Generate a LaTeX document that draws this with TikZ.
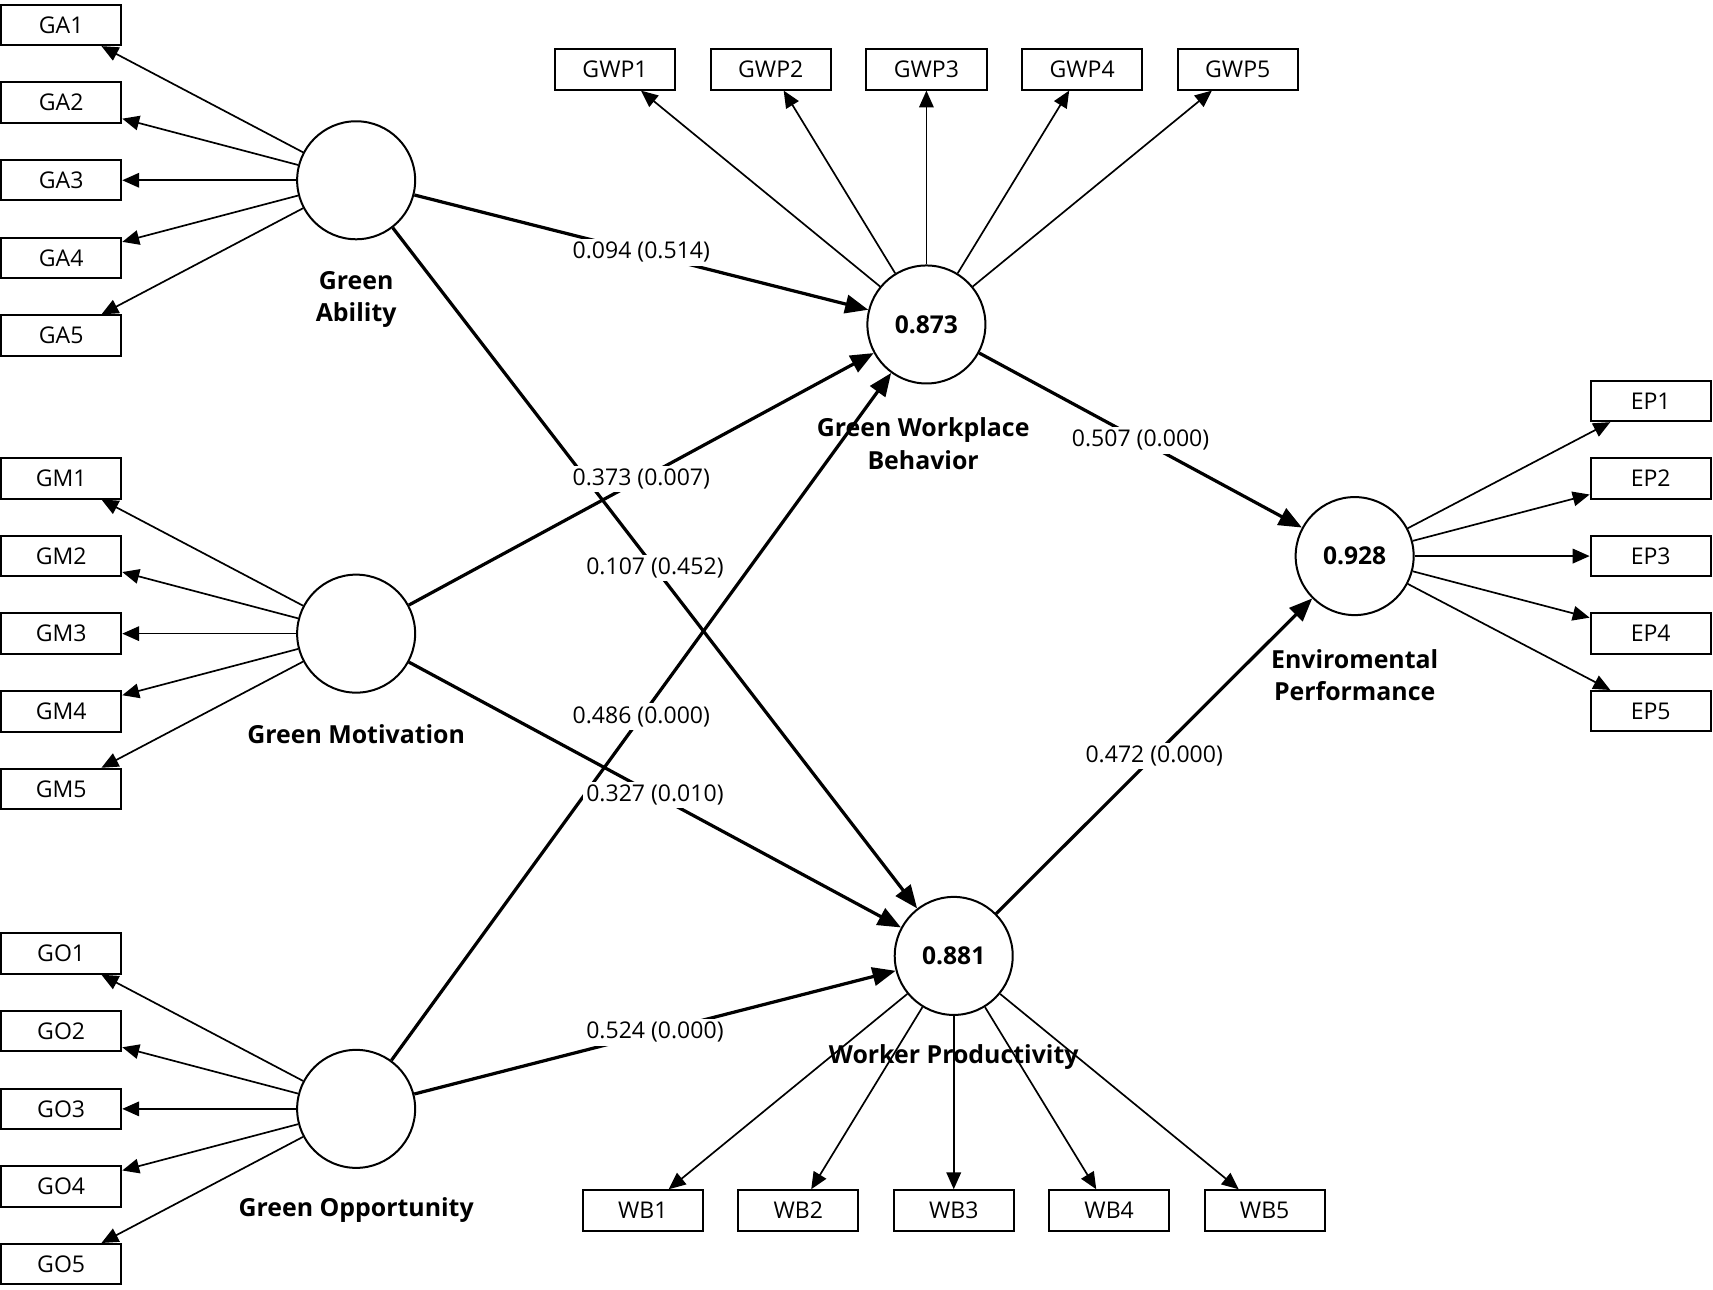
\documentclass[tikz,border=0pt]{standalone}
\usepackage{fontspec}
\setmainfont{Open Sans}
\usetikzlibrary{arrows.meta}

\begin{document}
\begin{tikzpicture}[x=0.025cm, y=-0.025cm,
  indicator/.style={draw, line width=1.3pt, fill=white, minimum width=2.75cm, minimum height=0.925cm, inner sep=0pt, font=\fontsize{15}{17}\selectfont},
  construct/.style={draw, circle, line width=1.3pt, fill=white, minimum size=2.7cm, inner sep=0pt, font=\fontsize{16}{18}\selectfont\bfseries},
  cname/.style={align=center, inner sep=0pt, font=\fontsize{16.2}{21}\selectfont\bfseries},
  loading/.style={line width=1.1pt, -{Triangle[length=11pt, width=9.5pt]}},
  structpath/.style={line width=2.1pt, -{Triangle[length=15pt, width=12pt]}},
  coeff/.style={fill=white, inner sep=2pt, font=\fontsize{15}{17}\selectfont}]

  \useasboundingbox (0, 0) rectangle (1568, 1180);

  % ==================== 1. LATENT CONSTRUCTS ====================
  \node[construct] (ga) at (326, 165) {};
  \node[construct] (gm) at (326, 580) {};
  \node[construct] (go) at (326, 1015) {};
  \node[construct] (gwb) at (848, 297) {0.873};
  \node[construct] (wp) at (873, 875) {0.881};
  \node[construct] (ep) at (1240, 509) {0.928};

  % Construct names
  \node[cname] (ganame) at (326, 274) {Green\\Ability};
  \node[cname] (gmname) at (326, 672) {Green Motivation};
  \node[cname] (goname) at (326, 1108) {Green Opportunity};
  \node[cname] (gwbname) at (845, 406) {Green Workplace\\Behavior};
  \node[cname] (wpname) at (873, 968) {Worker Productivity};
  \node[cname] (epname) at (1240, 618) {Enviromental\\Performance};

  % ==================== 2. INDICATORS ====================
  % Left blocks (GA, GM, GO)
  \foreach \i in {1,...,5} {
    \node[indicator] (ga\i) at (56, {165 + (\i-3)*71.1}) {GA\i};
    \node[indicator] (gm\i) at (56, {580 + (\i-3)*71.1}) {GM\i};
    \node[indicator] (go\i) at (56, {1015 + (\i-3)*71.1}) {GO\i};
    \draw[loading] (ga) -- (ga\i);
    \draw[loading] (gm) -- (gm\i);
    \draw[loading] (go) -- (go\i);
  }

  % Top row (GWP) and bottom row (WB)
  \foreach \i in {1,...,5} {
    \node[indicator] (gwp\i) at ({848 + (\i-3)*142.5}, 63.5) {GWP\i};
    \node[indicator] (wb\i) at ({873 + (\i-3)*142.3}, 1108) {WB\i};
    \draw[loading] (gwb) -- (gwp\i);
    \draw[loading] (wp) -- (wb\i);
  }

  % Right column (EP)
  \foreach \i in {1,...,5} {
    \node[indicator] (ep\i) at (1511, {509 + (\i-3)*71}) {EP\i};
    \draw[loading] (ep) -- (ep\i);
  }

  % ==================== 3. STRUCTURAL PATHS ====================
  \foreach \from/\to in {ga/gwb, gm/gwb, go/gwb, ga/wp, gm/wp, go/wp, gwb/ep, wp/ep} {
    \draw[structpath] (\from) -- (\to);
  }

  % Path coefficients (p-values), on top of all lines
  \foreach \from/\to/\val in {ga/gwb/{0.094 (0.514)}, gm/gwb/{0.373 (0.007)}, go/gwb/{0.486 (0.000)},
      ga/wp/{0.107 (0.452)}, gm/wp/{0.327 (0.010)}, go/wp/{0.524 (0.000)},
      gwb/ep/{0.507 (0.000)}, wp/ep/{0.472 (0.000)}} {
    \path (\from) -- node[coeff] (c-\from-\to) {\val} (\to);
  }

\end{tikzpicture}
\end{document}
